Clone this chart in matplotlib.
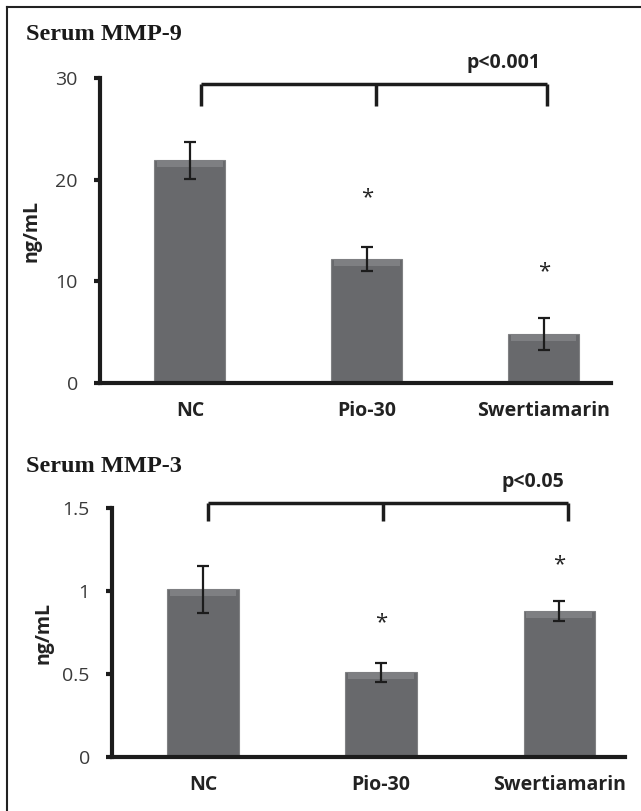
import numpy as np
import matplotlib
matplotlib.use("Agg")
import matplotlib.pyplot as plt
from matplotlib.lines import Line2D

# data
groups = ["NC", "Pio-30", "Swertiamarin"]
mmp9_mean = [21.9, 12.2, 4.8]
mmp9_err = [1.8, 1.2, 1.6]
mmp9_star = [None, 18.2, 10.9]
mmp3_mean = [1.01, 0.51, 0.88]
mmp3_err = [0.14, 0.058, 0.06]
mmp3_star = [None, 0.81, 1.16]

W, H = 641, 811
fig = plt.figure(figsize=(W / 100, H / 100), dpi=100)

SANS = "Open Sans"
SERIF = "Liberation Serif"
BAR = "#68696c"
BEVEL = "#7e7f82"
DARK = "#1c1c1c"


def ax_box(left, right, top, bottom):
    # pixel box -> figure fraction
    return [left / W, 1 - bottom / H, (right - left) / W, (bottom - top) / H]


def panel(ax, means, errs, stars, ymax, yticks, yticklabels, xlim,
          bevel, bracket_x, bracket_y, bracket_drop, ptext, ptext_xy):
    x = np.arange(len(groups))
    ax.bar(x, means, width=0.40, color=BAR, edgecolor="#808183",
           linewidth=0.8, zorder=2)
    # soft bevel strip along the bar top
    ax.bar(x, [bevel] * len(x), bottom=np.array(means) - bevel, width=0.37,
           color=BEVEL, linewidth=0, zorder=2.5)
    ax.errorbar(x, means, yerr=errs, fmt="none", ecolor=DARK,
                elinewidth=1.6, capsize=4, capthick=1.6, zorder=3)
    for xi, s in zip(x, stars):
        if s is not None:
            ax.text(xi, s, "*", ha="center", va="center", fontsize=16,
                    family=SANS, color="#222222")

    ax.set_xlim(*xlim)
    ax.set_ylim(0, ymax)
    ax.set_yticks(yticks)
    ax.set_yticklabels(yticklabels, family=SANS, fontsize=14,
                       color="#3a3a3a")
    ax.set_xticks(x)
    ax.set_xticklabels(groups, family=SANS, fontsize=14, fontweight="bold",
                       color="#222222")
    ax.tick_params(axis="x", length=0, pad=13)
    ax.tick_params(axis="y", direction="out", length=4, width=3,
                   color=DARK, pad=12)
    for side in ["top", "right"]:
        ax.spines[side].set_visible(False)
    for side in ["left", "bottom"]:
        ax.spines[side].set_linewidth(3)
        ax.spines[side].set_color(DARK)
    ax.set_ylabel("ng/mL", family=SANS, fontsize=14, fontweight="bold",
                  color="#222222")
    ax.yaxis.set_label_coords(-0.115, 0.5)

    # significance bracket
    bx = bracket_x
    ax.add_line(Line2D([bx[0], bx[-1]], [bracket_y, bracket_y], color=DARK,
                       lw=2.5, clip_on=False, solid_capstyle="butt"))
    for b in bx:
        ax.add_line(Line2D([b, b], [bracket_y, bracket_y - bracket_drop],
                           color=DARK, lw=2.5, clip_on=False,
                           solid_capstyle="butt"))
    ax.text(ptext_xy[0], ptext_xy[1], ptext, ha="center", va="center",
            family=SANS, fontsize=14, fontweight="bold", color="#222222",
            clip_on=False)


ax1 = fig.add_axes(ax_box(100, 611, 78, 383))
panel(ax1, mmp9_mean, mmp9_err, mmp9_star, 30, [0, 10, 20, 30],
      ["0", "10", "20", "30"], (-0.508, 2.38), 0.7,
      [0.06, 1.05, 2.02], 29.4, 2.2, "p<0.001", (1.77, 31.5))

ax2 = fig.add_axes(ax_box(112, 625, 508, 757))
panel(ax2, mmp3_mean, mmp3_err, mmp3_star, 1.5, [0, 0.5, 1, 1.5],
      ["0", "0.5", "1", "1.5"], (-0.511, 2.37), 0.04,
      [0.03, 1.01, 2.05], 1.53, 0.11, "p<0.05", (1.85, 1.657))

fig.text(26 / W, 1 - 35 / H, "Serum MMP-9", family=SERIF, fontsize=17.5,
         fontweight="bold", va="center", ha="left", color="#1a1a1a")
fig.text(26 / W, 1 - 467 / H, "Serum MMP-3", family=SERIF, fontsize=17.5,
         fontweight="bold", va="center", ha="left", color="#1a1a1a")

# outer frame (top and left edges visible)
fig.add_artist(Line2D([7 / W, 1], [1 - 7 / H, 1 - 7 / H], color="#222222",
                      lw=1.5, transform=fig.transFigure))
fig.add_artist(Line2D([7 / W, 7 / W], [0, 1 - 7 / H], color="#222222",
                      lw=1.5, transform=fig.transFigure))

fig.savefig("out.png", dpi=100)
